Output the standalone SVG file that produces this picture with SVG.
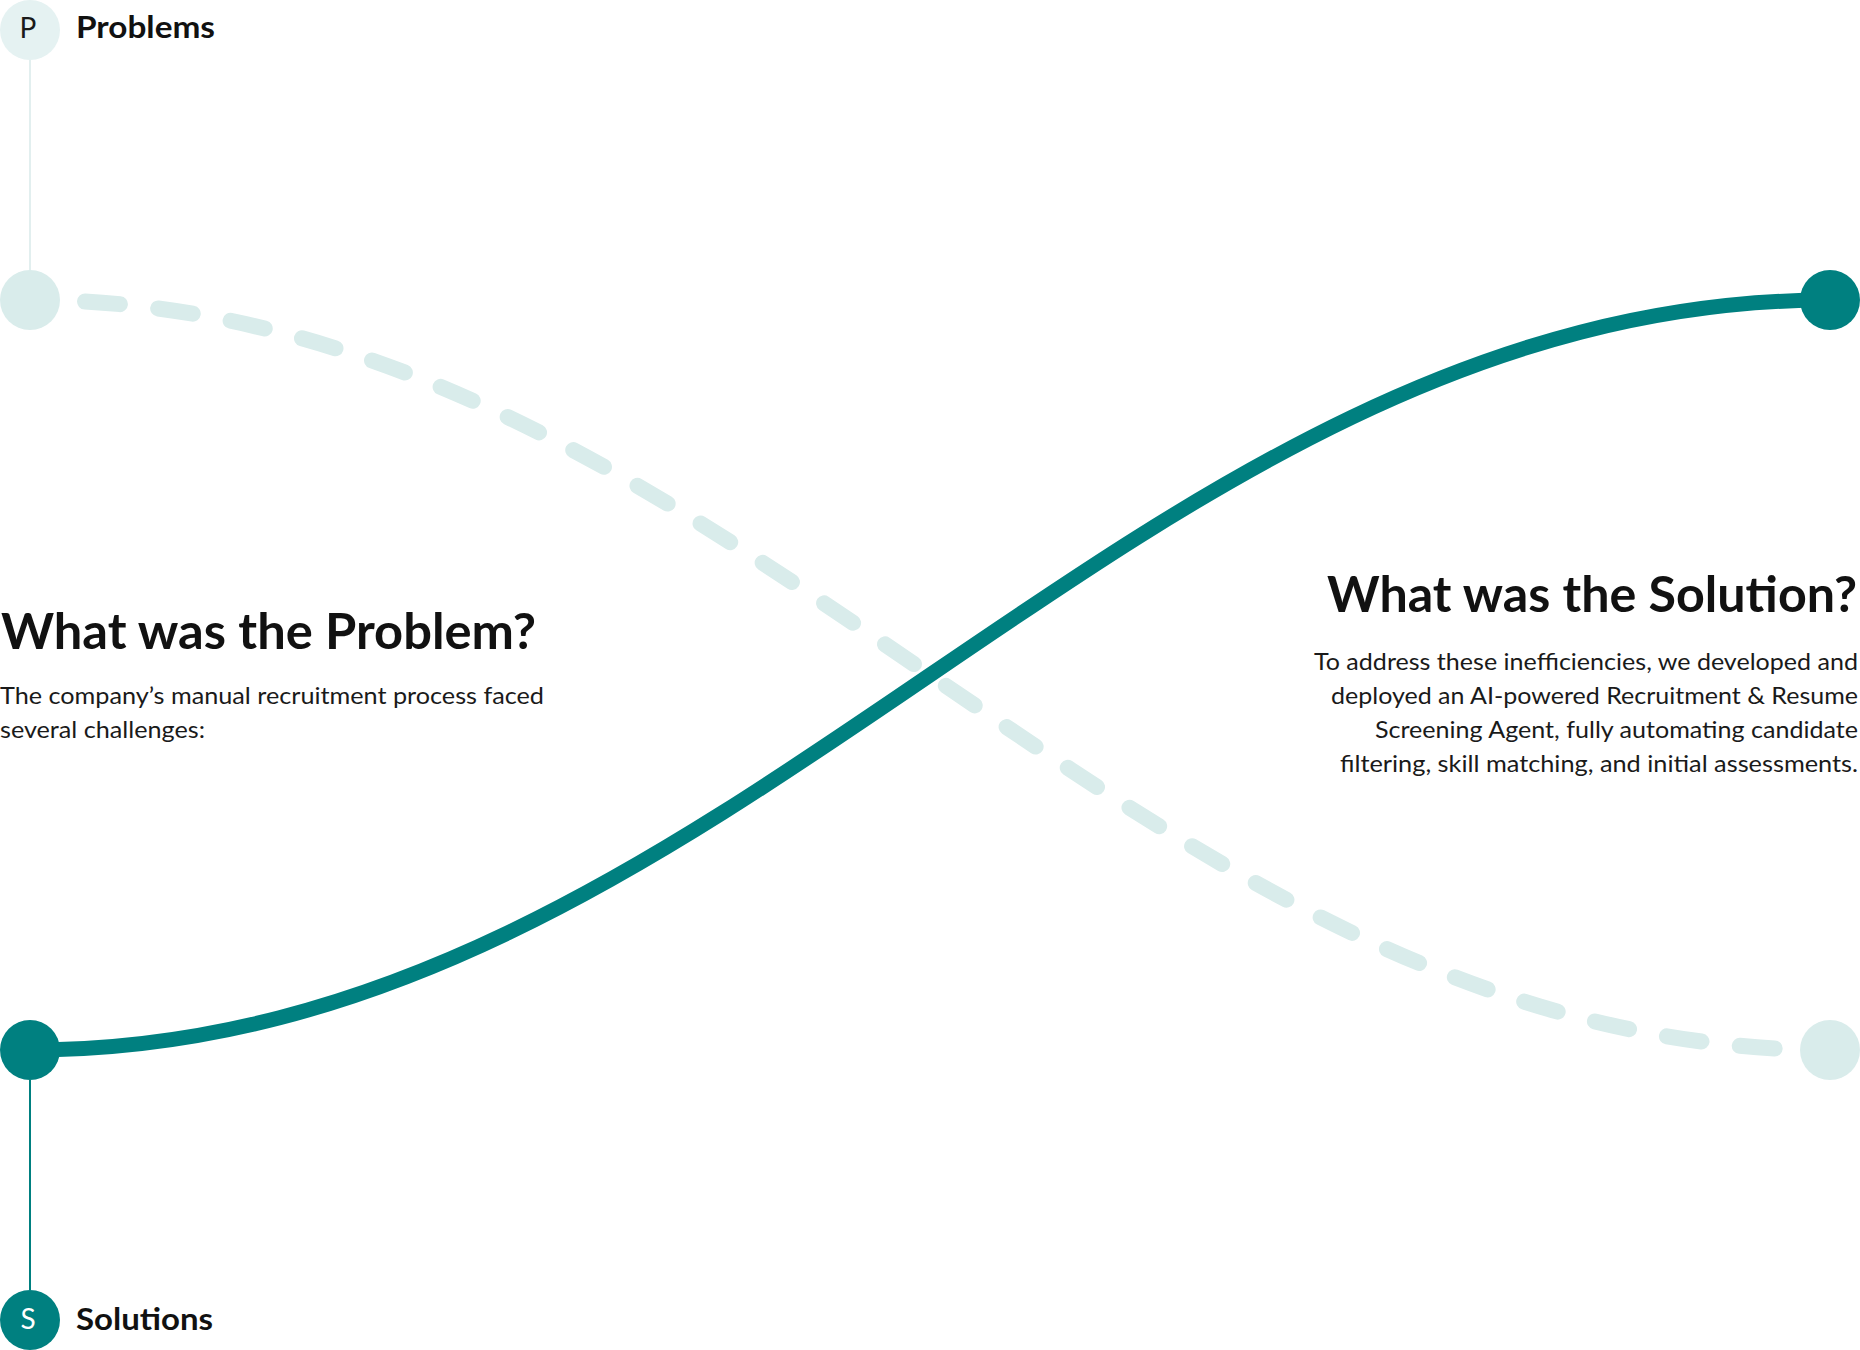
<svg xmlns="http://www.w3.org/2000/svg" width="1860" height="1350" viewBox="0 0 1860 1350">
  <style>
    .head { font-family: Lato, "Open Sans", sans-serif; font-weight: 700; font-size: 50px; fill: #111111; }
    .body { font-family: Lato, "Open Sans", sans-serif; font-weight: 400; font-size: 24px; fill: #1a1a1a; }
    .label { font-family: Lato, "Open Sans", sans-serif; font-weight: 700; font-size: 31px; fill: #111111; }
    .badge { font-family: Lato, "Open Sans", sans-serif; font-weight: 400; font-size: 28px; text-anchor: middle; }
    .teal { fill: #008080; }
    .pale { fill: #D9ECEB; }
  </style>
  <rect width="1860" height="1350" fill="#ffffff"/>

  <g id="connectors">
    <line x1="30" y1="60" x2="30" y2="270" stroke="#E2EFEF" stroke-width="2"/>
    <line x1="30" y1="1080" x2="30" y2="1290" stroke="#008080" stroke-width="2"/>
    <path id="problem-path" d="M30,300 C730,300 1130,1050 1830,1050" fill="none" stroke="#D9ECEB" stroke-width="16" stroke-linecap="round" stroke-dasharray="35 38.5" stroke-dashoffset="18.5"/>
    <path id="solution-path" d="M30,1050 C730,1050 1130,300 1830,300" fill="none" stroke="#008080" stroke-width="15"/>
  </g>

  <g id="node-problems">
    <circle cx="30" cy="30" r="30" fill="#E5F2F2"/>
    <text class="badge" x="28" y="38" fill="#1a1a1a">P</text>
    <text class="label" x="76" y="38" textLength="139" lengthAdjust="spacingAndGlyphs">Problems</text>
  </g>

  <g id="node-problem-start">
    <circle class="pale" cx="30" cy="300" r="30"/>
  </g>

  <g id="node-problem-end">
    <circle class="pale" cx="1830" cy="1050" r="30"/>
  </g>

  <g id="node-solution-start">
    <circle class="teal" cx="30" cy="1050" r="30"/>
  </g>

  <g id="node-solution-end">
    <circle class="teal" cx="1830" cy="300" r="30"/>
  </g>

  <g id="node-solutions">
    <circle class="teal" cx="30" cy="1320" r="30"/>
    <text class="badge" x="28" y="1329" fill="#ffffff">S</text>
    <text class="label" x="76" y="1330" textLength="137" lengthAdjust="spacingAndGlyphs">Solutions</text>
  </g>

  <g id="node-problem-text">
    <text class="head" x="1" y="649" textLength="535" lengthAdjust="spacingAndGlyphs">What was the Problem?</text>
    <text class="body" x="0" y="704" textLength="544" lengthAdjust="spacingAndGlyphs">The company’s manual recruitment process faced</text>
    <text class="body" x="0" y="738" textLength="205" lengthAdjust="spacingAndGlyphs">several challenges:</text>
  </g>

  <g id="node-solution-text" text-anchor="end">
    <text class="head" x="1857" y="612" textLength="530" lengthAdjust="spacingAndGlyphs">What was the Solution?</text>
    <text class="body" x="1858" y="670" textLength="544" lengthAdjust="spacingAndGlyphs">To address these inefficiencies, we developed and</text>
    <text class="body" x="1858" y="704" textLength="527" lengthAdjust="spacingAndGlyphs">deployed an AI-powered Recruitment &amp; Resume</text>
    <text class="body" x="1858" y="738" textLength="483" lengthAdjust="spacingAndGlyphs">Screening Agent, fully automating candidate</text>
    <text class="body" x="1858" y="772" textLength="518" lengthAdjust="spacingAndGlyphs">filtering, skill matching, and initial assessments.</text>
  </g>
</svg>
